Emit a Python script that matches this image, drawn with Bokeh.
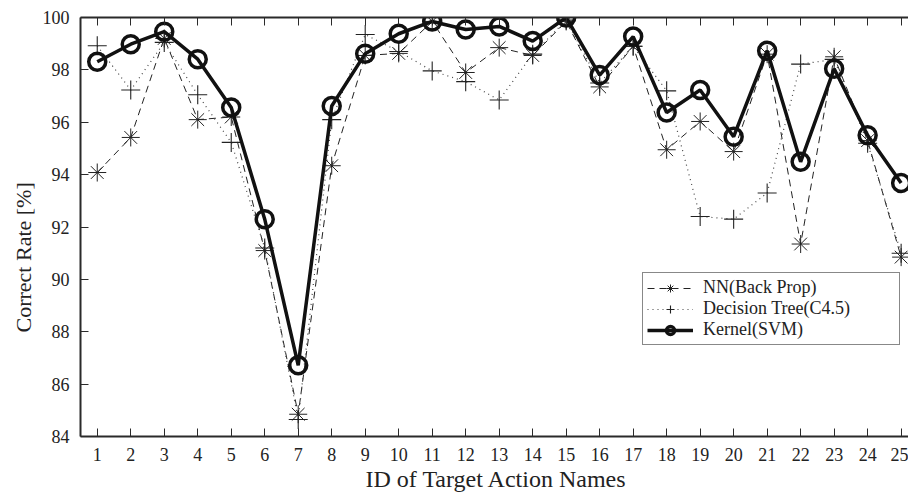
from bokeh.plotting import figure
from bokeh.models import Range1d, LinearAxis, FixedTicker, Legend, LegendItem, Title
from bokeh.embed import file_html
from bokeh.resources import INLINE

ids = list(range(1, 26))
x_tick_labels = [str(i) for i in ids]
y_ticks = [84, 86, 88, 90, 92, 94, 96, 98, 100]
x_title = "ID of  Target Action Names"
y_title = "Correct Rate [%]"

nn_backprop = [94.08, 95.42, 99.2, 96.1, 96.2, 91.1, 84.85, 94.34, 98.55, 98.63,
               99.85, 97.9, 98.85, 98.55, 99.85, 97.35, 98.9, 94.95, 96.03, 94.88,
               98.6, 91.35, 98.5, 95.3, 90.85]
dtree_c45 = [98.92, 97.23, 99.05, 97.05, 95.23, 91.2, 84.65, 96.1, 99.35, 98.7,
             97.96, 97.55, 96.85, 98.6, 99.9, 97.5, 98.9, 97.2, 92.4, 92.3,
             93.3, 98.22, 98.4, 95.2, 91.0]
kernel_svm = [98.31, 98.98, 99.46, 98.41, 96.56, 92.3, 86.72, 96.62, 98.62, 99.38,
              99.85, 99.54, 99.66, 99.1, 100.0, 97.8, 99.27, 96.37, 97.23, 95.45,
              98.73, 94.49, 98.04, 95.5, 93.68]

FONT = "Liberation Serif"
AX = "#2a2a2a"

p = figure(width=908, height=497, x_range=Range1d(0.5, 25.22), y_range=Range1d(84, 100),
           output_backend="svg", toolbar_location=None,
           min_border_left=80, min_border_right=0, min_border_top=17, min_border_bottom=61)
p.outline_line_color = None
p.grid.grid_line_color = None
p.background_fill_color = "white"
p.border_fill_color = "white"

# axes
for ax in (p.xaxis[0], p.yaxis[0]):
    ax.axis_line_color = AX
    ax.axis_line_width = 2
    ax.major_tick_in = 8
    ax.major_tick_out = 0
    ax.major_tick_line_color = AX
    ax.major_tick_line_width = 1
    ax.minor_tick_line_color = None
    ax.major_label_text_font = FONT
    ax.major_label_text_font_size = "18px"
    ax.major_label_text_color = "#222"

p.xaxis[0].ticker = FixedTicker(ticks=ids)
p.xaxis[0].major_label_overrides = {i: s for i, s in zip(ids, x_tick_labels)}
p.xaxis[0].major_label_standoff = 11

p.yaxis[0].ticker = FixedTicker(ticks=y_ticks)
p.yaxis[0].major_label_standoff = 11

# axis titles as side titles, positioned like the reference
p.add_layout(Title(text=y_title, text_font=FONT, text_font_size="22px",
                   text_font_style="normal", text_color="#222",
                   align="left", offset=104, standoff=7), "left")
p.add_layout(Title(text=x_title, text_font=FONT, text_font_size="24px",
                   text_font_style="normal", text_color="#222",
                   align="left", offset=285, standoff=0), "below")

# top frame line with inward ticks only (no labels)
top = LinearAxis(ticker=FixedTicker(ticks=[], minor_ticks=ids),
                 major_tick_line_color=None, minor_tick_in=8, minor_tick_out=0,
                 minor_tick_line_color=AX, minor_tick_line_width=1,
                 axis_line_color=AX, axis_line_width=2)
p.add_layout(top, "above")

# series
nn_line = p.line(ids, nn_backprop, line_color="#222", line_width=1, line_dash="7 5")
nn_pts = p.scatter(ids, nn_backprop, marker="asterisk", size=18, line_color="#222", line_width=1)

dt_line = p.line(ids, dtree_c45, line_color="#444", line_width=1.2, line_dash="1 4")
dt_pts = p.scatter(ids, dtree_c45, marker="cross", size=19, line_color="#222", line_width=1.1)

svm_line = p.line(ids, kernel_svm, line_color="#111", line_width=3.5)
svm_pts = p.scatter(ids, kernel_svm, marker="circle", size=17, line_color="#111",
                    line_width=3.5, fill_color=None)

legend = Legend(items=[
    LegendItem(label="NN(Back Prop)", renderers=[nn_line, nn_pts]),
    LegendItem(label="Decision Tree(C4.5)", renderers=[dt_line, dt_pts]),
    LegendItem(label="Kernel(SVM)", renderers=[svm_line, svm_pts]),
], location=(562, 91))
legend.label_text_font = FONT
legend.label_text_font_size = "18px"
legend.label_text_color = "#222"
legend.border_line_color = "#111"
legend.border_line_width = 1.5
legend.padding = 4
legend.margin = 0
legend.spacing = 0
legend.glyph_width = 46
legend.glyph_height = 20
legend.label_height = 20
legend.label_width = 192
legend.label_standoff = 10
legend.background_fill_alpha = 1
p.add_layout(legend, "center")

open("out.html", "w").write(file_html(p, INLINE))
